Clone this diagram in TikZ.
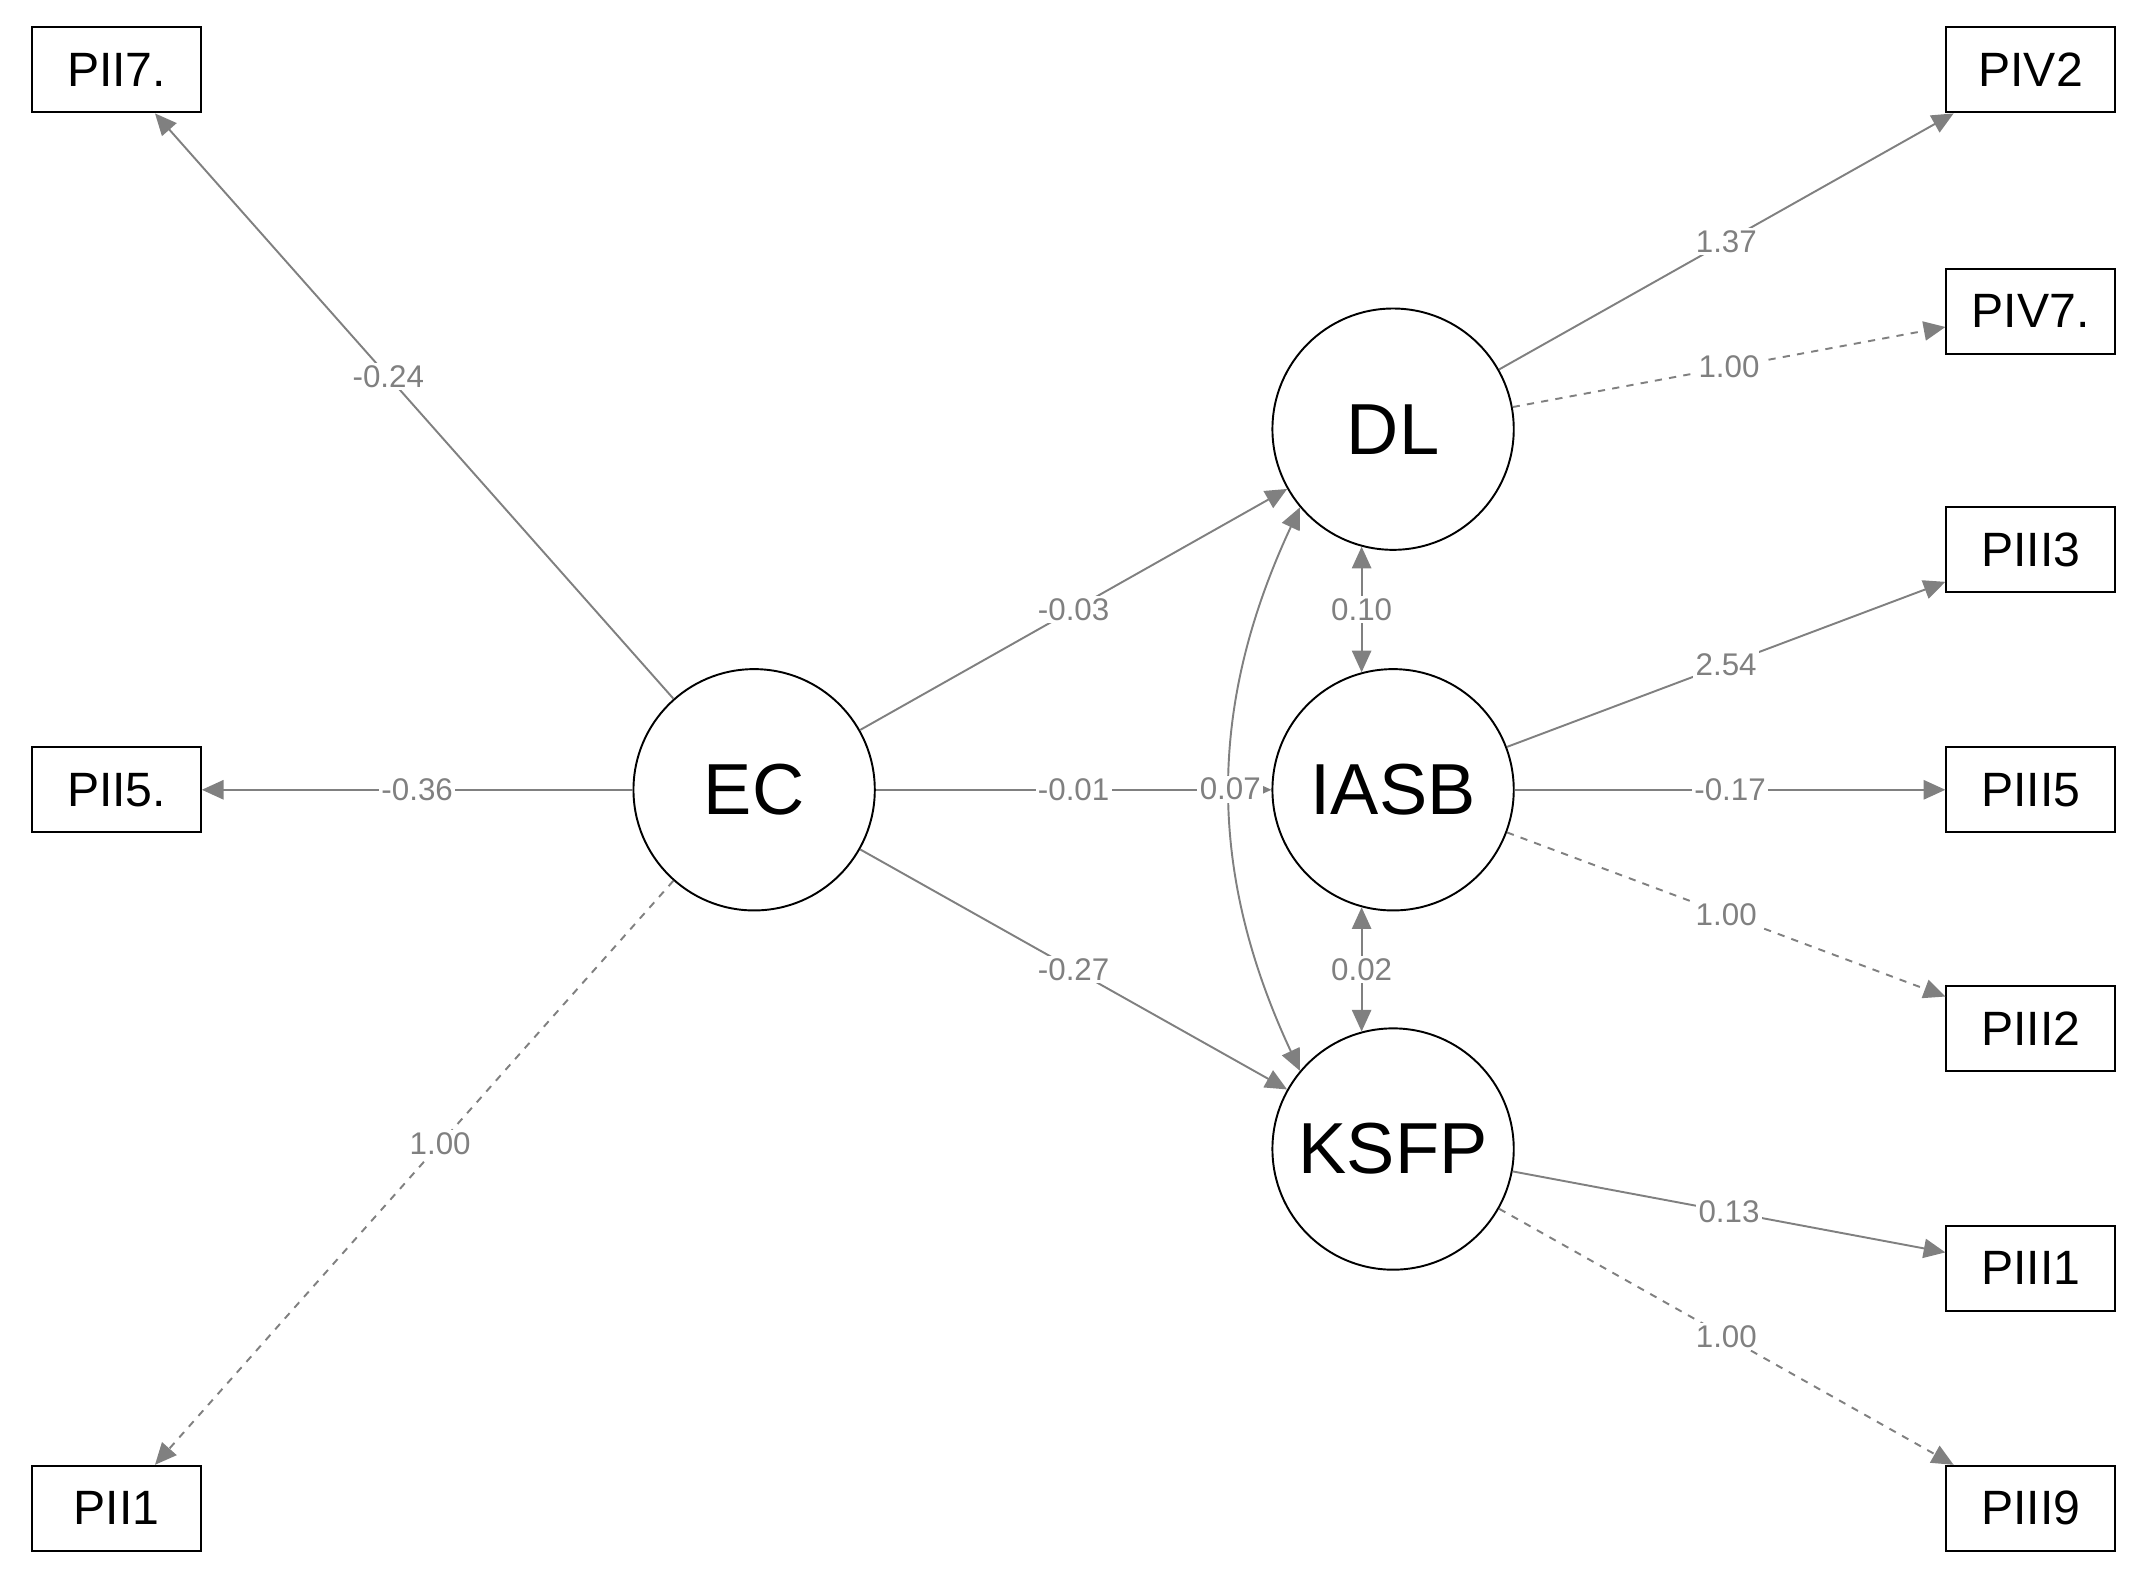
\documentclass[tikz,border=0pt]{standalone}
\usepackage{fontspec}
\setmainfont{Liberation Sans}
\usetikzlibrary{arrows.meta}
\definecolor{eg}{gray}{0.5}
\begin{document}
\begin{tikzpicture}[x=0.02cm,y=-0.02cm,
 box/.style={draw,thick,minimum width=123*0.02cm,minimum height=62*0.02cm,inner sep=0pt,font=\fontsize{20}{22}\selectfont},
 lat/.style={draw,thick,circle,minimum size=176*0.02cm,inner sep=0pt,font=\fontsize{30}{32}\selectfont},
 e/.style={draw=eg,thick,-{Triangle[length=9pt,width=8pt]}},
 b/.style={draw=eg,thick,{Triangle[length=9pt,width=8pt]}-{Triangle[length=9pt,width=8pt]}},
 d/.style={dashed},
 lb/.style={fill=white,inner sep=1pt,text=eg,font=\fontsize{13}{14}\selectfont}]
\useasboundingbox (0,0) rectangle (1560,1149);
\node[box] (PII7) at (85,51) {PII7.};
\node[box] (PII5) at (85,576) {PII5.};
\node[box] (PII1) at (85,1100) {PII1};
\node[box] (PIV2) at (1481,51) {PIV2};
\node[box] (PIV7) at (1481,227) {PIV7.};
\node[box] (PIII3) at (1481,401) {PIII3};
\node[box] (PIII5) at (1481,576) {PIII5};
\node[box] (PIII2) at (1481,750) {PIII2};
\node[box] (PIII1) at (1481,925) {PIII1};
\node[box] (PIII9) at (1481,1100) {PIII9};
\node[lat] (EC) at (550,576) {EC};
\node[lat] (DL) at (1016,313) {DL};
\node[lat] (IASB) at (1016,576) {IASB};
\node[lat] (KSFP) at (1016,838) {KSFP};
\draw[e] (EC) -- node[lb,pos=0.55]{-0.24} (PII7);
\draw[e] (EC) -- node[lb,pos=0.5]{-0.36} (PII5);
\draw[e,d] (EC) -- node[lb,pos=0.45]{1.00} (PII1);
\draw[e] (EC) -- node[lb]{-0.03} (DL);
\draw[e] (EC) -- node[lb,pos=0.5]{-0.01} (IASB);
\draw[e] (EC) -- node[lb]{-0.27} (KSFP);
\draw[b] (DL.-140) to[bend right=25] node[lb]{0.07} (KSFP.140);
\draw[b] (DL.-105) -- node[lb]{0.10} (IASB.105);
\draw[b] (IASB.-105) -- node[lb]{0.02} (KSFP.105);
\draw[e] (DL) -- node[lb]{1.37} (PIV2);
\draw[e,d] (DL) -- node[lb]{1.00} (PIV7);
\draw[e] (IASB) -- node[lb]{2.54} (PIII3);
\draw[e] (IASB) -- node[lb]{-0.17} (PIII5);
\draw[e,d] (IASB) -- node[lb]{1.00} (PIII2);
\draw[e] (KSFP) -- node[lb]{0.13} (PIII1);
\draw[e,d] (KSFP) -- node[lb]{1.00} (PIII9);
\end{tikzpicture}
\end{document}
